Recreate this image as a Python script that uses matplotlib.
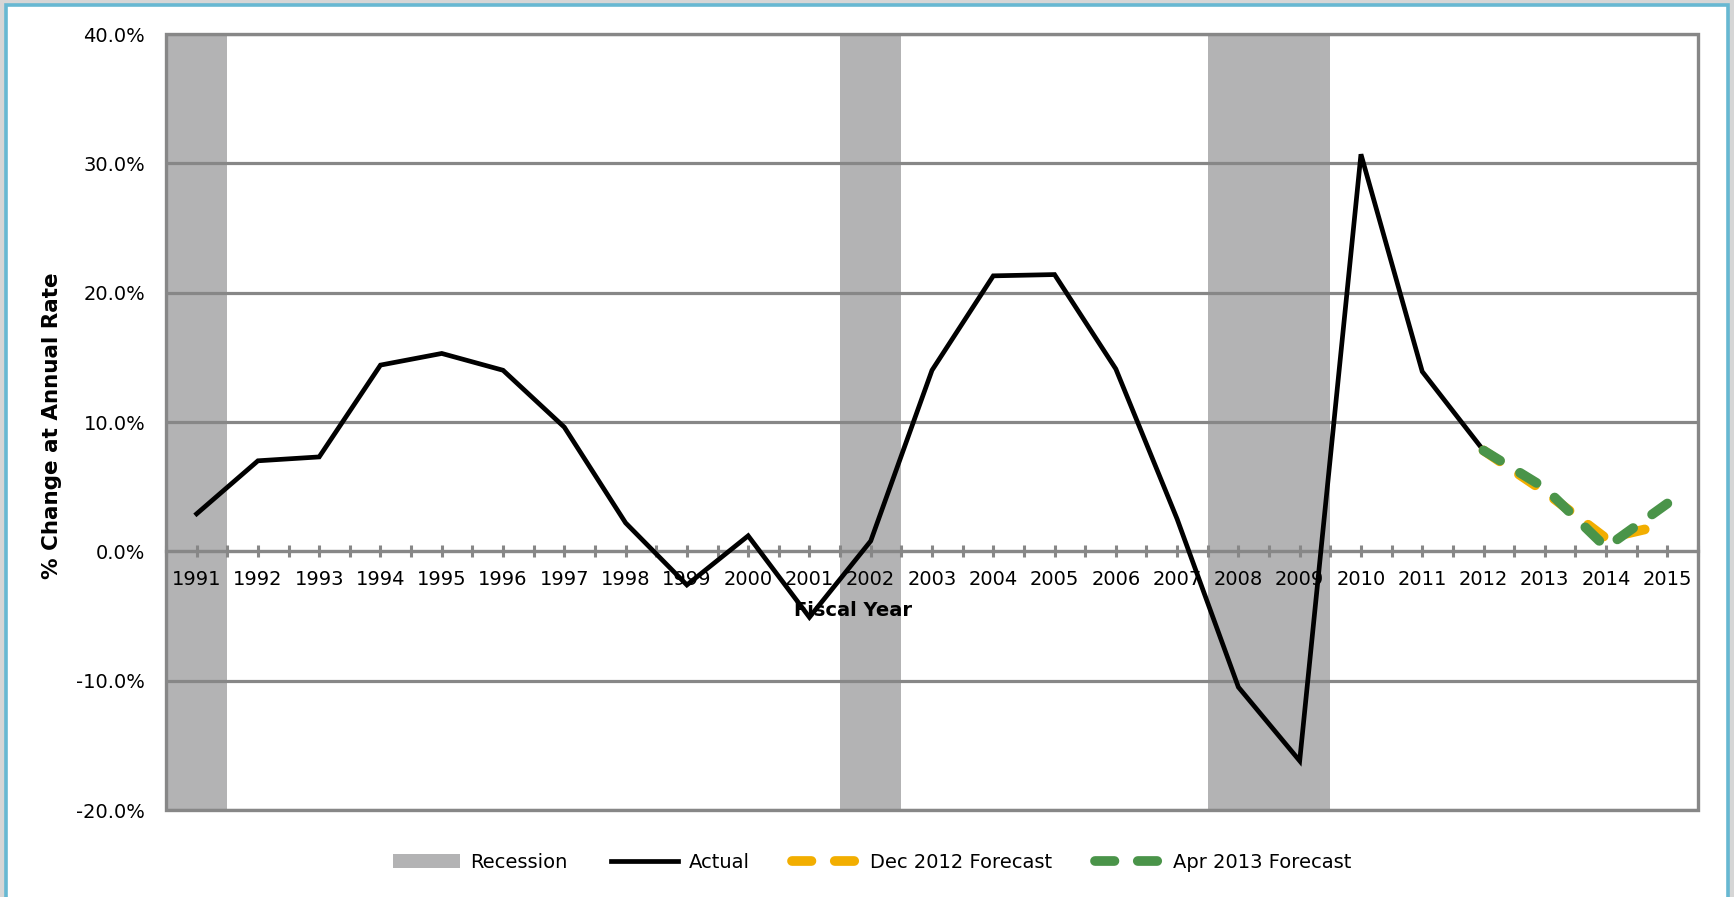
import matplotlib
matplotlib.use("Agg")
import matplotlib.pyplot as plt
from matplotlib.patches import Rectangle, Patch
from matplotlib.lines import Line2D
from matplotlib.ticker import FuncFormatter, FixedLocator

# ---- data -------------------------------------------------------------
years = [1991, 1992, 1993, 1994, 1995, 1996, 1997, 1998, 1999, 2000,
         2001, 2002, 2003, 2004, 2005, 2006, 2007, 2008, 2009, 2010,
         2011, 2012, 2013, 2014, 2015]

actual_years = years[:22]
actual = [2.9, 7.0, 7.3, 14.4, 15.3, 14.0, 9.6, 2.2, -2.6, 1.2,
          -5.1, 0.8, 14.0, 21.3, 21.4, 14.1, 2.5, -10.5, -16.2, 30.7,
          13.9, 7.8]

forecast_years = [2012, 2013, 2014, 2015]
dec_2012_forecast = [7.8, 4.6, 1.0, 2.1]
apr_2013_forecast = [7.8, 4.9, 0.3, 3.7]

recession_years = [1991, 2002, 2008, 2009]

y_min, y_max, y_step = -20, 40, 10

# ---- styling ----------------------------------------------------------
plt.rcParams['font.family'] = ['DejaVu Sans']
FS = 14
GRID = '#878787'
BAND = '#B3B3B4'
ORANGE = '#F2AE00'
GREEN = '#4A9449'
DASH = (0, (2.0, 2.4))
FLW = 7.0

W, H = 1734, 897
fig = plt.figure(figsize=(W / 100, H / 100), dpi=100)
fig.patch.set_facecolor('#D6D6D6')

# white card with a blue outline (open at the bottom)
fig.patches.append(Rectangle((5.5 / W, -0.05), (1728 - 5.5) / W, 1.05 - 5.5 / H,
                             transform=fig.transFigure, facecolor='white',
                             edgecolor='#67B8D2', linewidth=2.6, zorder=-5))

left, right, top, bottom = 166, 1698, 34, 810
ax = fig.add_axes([left / W, 1 - bottom / H, (right - left) / W, (bottom - top) / H])
ax.set_facecolor('white')

idx = {y: i for i, y in enumerate(years)}

# recession shading
ax.bar([idx[y] for y in recession_years], y_max - y_min, bottom=y_min,
       width=1.0, color=BAND, zorder=1, linewidth=0)

# series
ax.plot([idx[y] for y in actual_years], actual, color='black', lw=3.4,
        solid_joinstyle='miter', zorder=3)
fx = [idx[y] for y in forecast_years]
ax.plot(fx, dec_2012_forecast, color=ORANGE, lw=FLW,
        linestyle=DASH, dash_capstyle='round', zorder=4)
ax.plot(fx, apr_2013_forecast, color=GREEN, lw=FLW,
        linestyle=DASH, dash_capstyle='round', zorder=5)

# axes limits / grid
ax.set_xlim(-0.5, len(years) - 0.5)
ax.set_ylim(y_min, y_max)
ax.set_axisbelow('line')
yticks = list(range(y_min, y_max + 1, y_step))
ax.yaxis.set_major_locator(FixedLocator(yticks))
ax.yaxis.set_major_formatter(FuncFormatter(lambda v, p: f"{v:.1f}%"))
ax.grid(axis='y', color=GRID, lw=2.3)
ax.tick_params(axis='y', length=0, pad=15, labelsize=FS)

# category axis crossing at zero
for s in ['top', 'left', 'right']:
    ax.spines[s].set_visible(False)
ax.spines['bottom'].set_position(('data', 0))
ax.spines['bottom'].set_color(GRID)
ax.spines['bottom'].set_linewidth(2.3)
ax.set_xticks(range(len(years)))
ax.set_xticklabels([str(y) for y in years])
ax.set_xticks([i - 0.5 for i in range(len(years) + 1)], minor=True)
ax.tick_params(axis='x', which='both', direction='inout', length=8.5,
               width=2.2, color=GRID, labelsize=FS, pad=9)

# plot-area frame
ax.add_patch(Rectangle((0, 0), 1, 1, transform=ax.transAxes, fill=False,
                       edgecolor=GRID, linewidth=2.4, zorder=6, clip_on=False))

# axis titles
ax.text((853 - left) / (right - left), (bottom - 610) / (bottom - top), 'Fiscal Year',
        transform=ax.transAxes, ha='center', va='center', fontsize=FS,
        fontweight='bold', zorder=2.5)
fig.text(52 / W, 1 - 426 / H, '% Change at Annual Rate', rotation=90,
         ha='center', va='center', fontsize=15.5, fontweight='bold')

# legend
handles = [
    Patch(facecolor=BAND, edgecolor='none'),
    Line2D([], [], color='black', lw=3.4),
    Line2D([], [], color=ORANGE, lw=FLW, linestyle=DASH, dash_capstyle='round'),
    Line2D([], [], color=GREEN, lw=FLW, linestyle=DASH, dash_capstyle='round'),
]
labels = ['Recession', 'Actual', 'Dec 2012 Forecast', 'Apr 2013 Forecast']
fig.legend(handles, labels, loc='center', bbox_to_anchor=(872 / W, 1 - 862 / H),
           ncol=4, frameon=False, fontsize=FS, handlelength=3.45,
           handletextpad=0.55, columnspacing=2.2)

fig.savefig('out.png', dpi=100, facecolor=fig.get_facecolor())
